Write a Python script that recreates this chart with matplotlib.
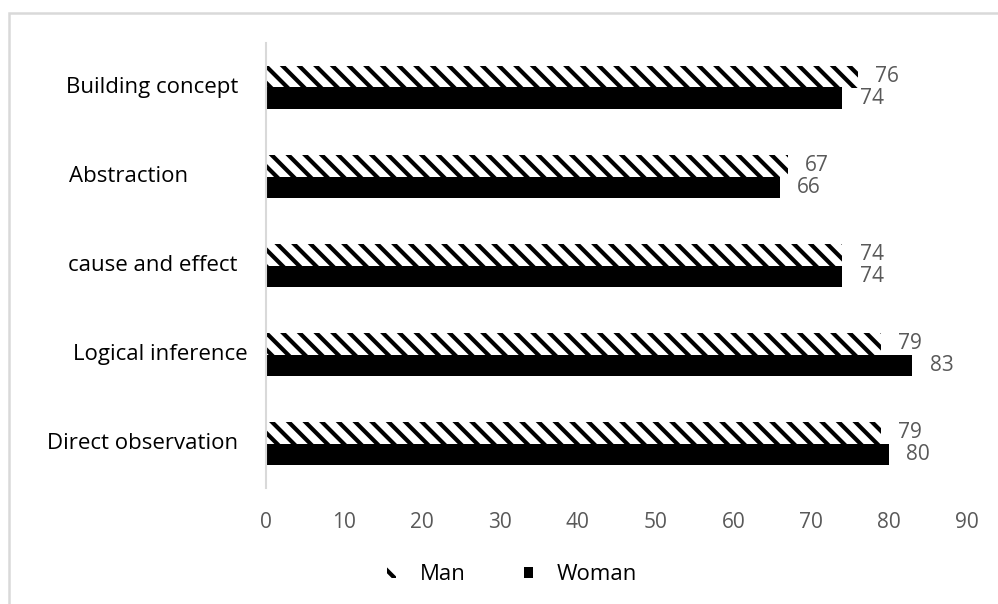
import matplotlib
matplotlib.use("Agg")
import matplotlib.pyplot as plt
from matplotlib.patches import Rectangle, Patch
import matplotlib.transforms as mtransforms

plt.rcParams.update({
    "font.family": "Open Sans",
    "font.size": 15,
    "hatch.linewidth": 3.0,
    "hatch.color": "black",
})

# bottom to top
categories = ["Direct observation", "Logical inference", "cause and effect",
              "Abstraction", "Building concept"]
man = [79, 79, 74, 67, 76]
woman = [80, 83, 74, 66, 74]
xticks = [0, 10, 20, 30, 40, 50, 60, 70, 80, 90]

# right edge of each category label, in figure pixels
label_right = [238, 248, 238, 188, 238]

fig = plt.figure(figsize=(9.98, 6.04), dpi=100)
W, H = 998, 604

# light grey chart frame
fig.patches.append(Rectangle((9 / W, -0.1), 1.2, 1 - 13 / H + 0.1,
                             transform=fig.transFigure, fill=False,
                             edgecolor="#d9d9d9", linewidth=1.8))

ax = fig.add_axes([266 / W, 1 - 488 / H, (967 - 266) / W, (488 - 43) / H])

h = 0.236
ypos = list(range(len(categories)))
ax.barh([y + h / 2 for y in ypos], man, height=h, color="white",
        edgecolor="black", hatch="\\\\", linewidth=0, label="Man")
ax.barh([y - h / 2 for y in ypos], woman, height=h, color="black",
        linewidth=0, label="Woman")

for y, m, w in zip(ypos, man, woman):
    ax.text(m + 2.2, y + h / 2, str(m), va="center", ha="left",
            color="#595959", fontsize=15)
    ax.text(w + 2.2, y - h / 2, str(w), va="center", ha="left",
            color="#595959", fontsize=15)

blend = mtransforms.blended_transform_factory(fig.transFigure, ax.transData)
for y, name, xr in zip(ypos, categories, label_right):
    ax.text(xr / W, y, name, ha="right", va="center", transform=blend,
            fontsize=16, color="black")

ax.set_xlim(0, 90)
ax.set_ylim(-0.5, len(categories) - 0.5)
ax.set_xticks(xticks)
ax.set_yticks([])
ax.tick_params(axis="x", length=0, pad=17, labelcolor="#595959", labelsize=15)

for s in ["top", "right", "bottom"]:
    ax.spines[s].set_visible(False)
ax.spines["left"].set_color("#d9d9d9")
ax.spines["left"].set_linewidth(1.5)

handles = [Patch(facecolor="white", edgecolor="black", hatch="\\\\",
                 linewidth=0, label="Man"),
           Patch(facecolor="black", linewidth=0, label="Woman")]
fig.legend(handles=handles, loc="center", bbox_to_anchor=(512 / W, 1 - 575 / H),
           ncol=2, frameon=False, handlelength=0.4, handleheight=0.4,
           columnspacing=2.6, handletextpad=1.1, fontsize=16)

fig.savefig("out.png", dpi=100)
